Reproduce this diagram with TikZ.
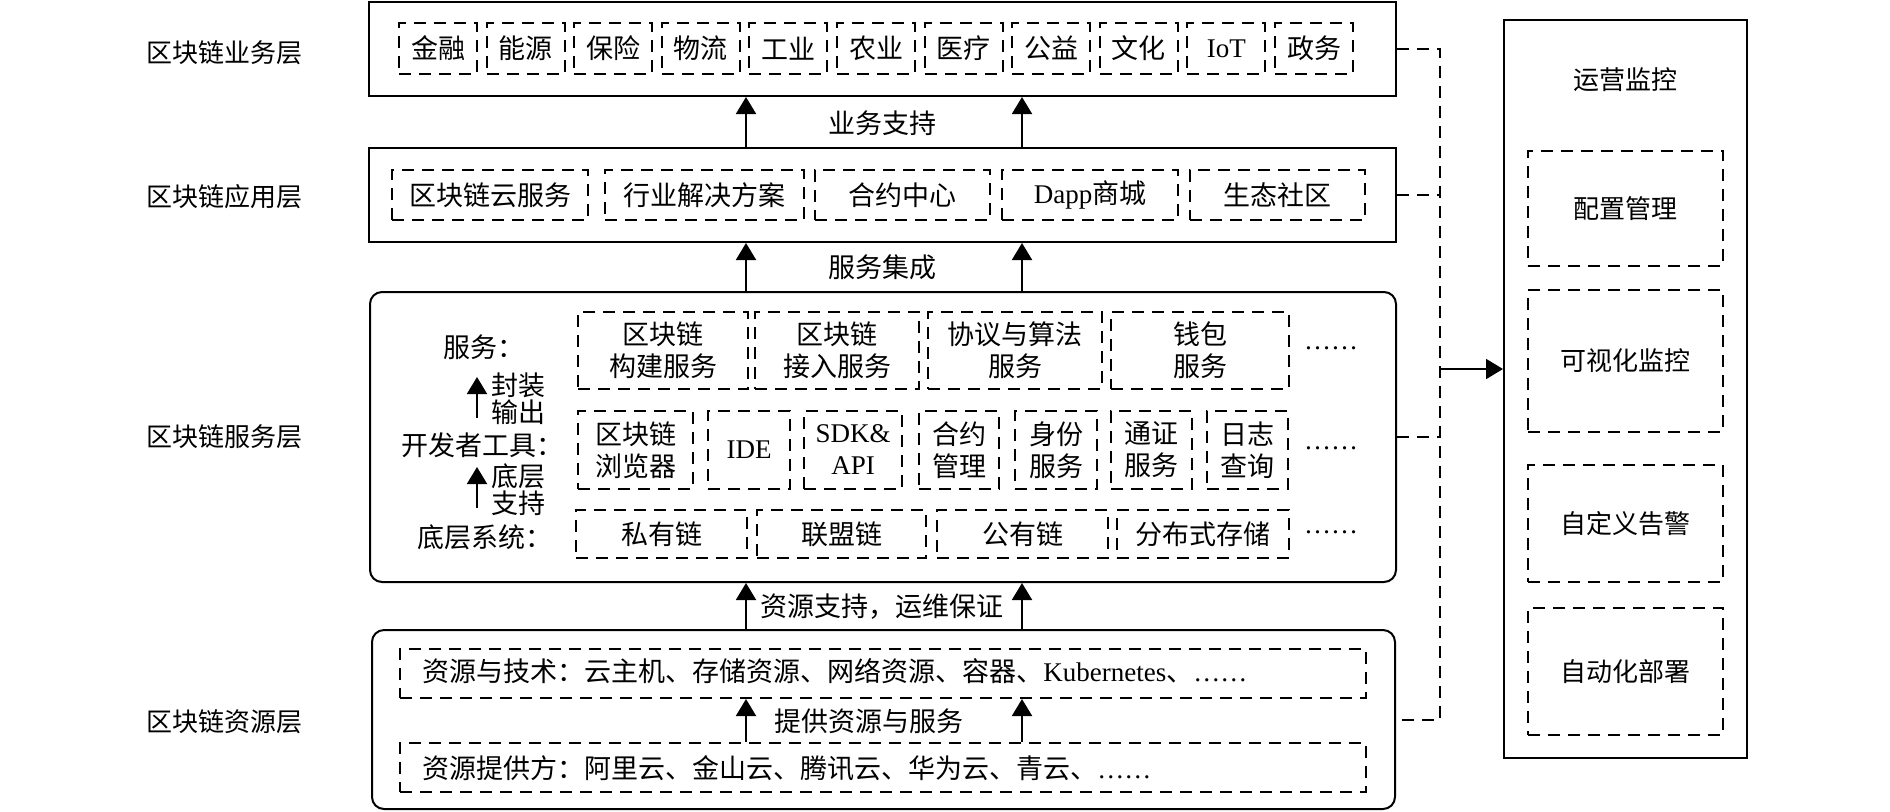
\documentclass[tikz,border=0pt]{standalone}
\usepackage{fontspec}
\setmainfont{Liberation Serif}
\newfontfamily\cjk{Noto Sans CJK SC}
\usetikzlibrary{arrows.meta}
\newcommand\fs{\fontsize{13.5pt}{16pt}\selectfont}
\newcommand\fl{\fontsize{13pt}{16pt}\selectfont}
\tikzset{
  base/.style={inner sep=0pt, font=\cjk\fs, align=center},
  sbox/.style={base, draw, line width=1pt},
  rbox/.style={sbox, rounded corners=6pt},
  dbox/.style={base, draw, line width=1pt, dash pattern=on 6pt off 4pt},
  mbox/.style={dbox, font=\cjk\fl},
  txt/.style={base},
  ltxt/.style={base, font=\cjk\fl},
  sidetxt/.style={base, font=\cjk\fontsize{13.5pt}{13.5pt}\selectfont},
  arr/.style={line width=1pt, -{Triangle[length=8.5pt,width=10pt]}},
  dline/.style={line width=1pt, dash pattern=on 6pt off 4pt},
}
\newcommand\bx[7]{\node[#6, minimum width={(#4-#2)*0.5pt}, minimum height={(#5-#3)*0.5pt}] (#1) at ({(#2+#4)/2},{(#3+#5)/2}) {#7};}
\begin{document}
\begin{tikzpicture}[x=0.5pt,y=-0.5pt]
\useasboundingbox (0,0) rectangle (1890,811);

% layer labels
\node[ltxt] (lb1) at (224,53) {区块链业务层};
\node[ltxt] (lb2) at (224,197) {区块链应用层};
\node[ltxt] (lb3) at (224,437) {区块链服务层};
\node[ltxt] (lb4) at (224,722) {区块链资源层};

% business layer
\bx{biz}{369}{2}{1396}{96}{sbox}{}
\foreach \t [count=\i from 0] in {金融,能源,保险,物流,工业,农业,医疗,公益,文化,{\rmfamily IoT},政务}{
  \pgfmathsetmacro\xc{438+\i*87.6}
  \node[dbox, minimum width=39pt, minimum height=25.5pt] (bi\i) at (\xc,48.5) {\t};
}

% application layer
\bx{app}{369}{148}{1396}{242}{sbox}{}
\bx{a1}{392}{170}{588}{220}{dbox}{区块链云服务}
\bx{a2}{605}{170}{804}{220}{dbox}{行业解决方案}
\bx{a3}{815}{170}{990}{220}{dbox}{合约中心}
\bx{a4}{1002}{170}{1178}{220}{dbox}{{\rmfamily Dapp}商城}
\bx{a5}{1190}{170}{1365}{220}{dbox}{生态社区}

% service layer
\bx{srv}{370}{292}{1396}{582}{rbox}{}
\bx{s1}{578}{312}{748}{389}{dbox}{区块链\\构建服务}
\bx{s2}{755}{312}{919}{389}{dbox}{区块链\\接入服务}
\bx{s3}{928}{312}{1102}{389}{dbox}{协议与算法\\服务}
\bx{s4}{1111}{312}{1289}{389}{dbox}{钱包\\服务}
\node[txt, font=\rmfamily\fs] (s5) at (1331,348) {……};

\bx{d1}{578}{411}{693}{489}{dbox}{区块链\\浏览器}
\bx{d2}{708}{411}{790}{489}{dbox}{{\rmfamily IDE}}
\bx{d3}{804}{411}{902}{489}{dbox}{{\rmfamily SDK\&}\\{\rmfamily API}}
\bx{d4}{919}{411}{999}{489}{dbox}{合约\\管理}
\bx{d5}{1015}{411}{1097}{489}{dbox}{身份\\服务}
\bx{d6}{1111}{411}{1192}{489}{dbox}{通证\\服务}
\bx{d7}{1207}{411}{1288}{489}{dbox}{日志\\查询}
\node[txt, font=\rmfamily\fs] (d8) at (1331,448) {……};

\bx{u1}{576}{510}{747}{558}{dbox}{私有链}
\bx{u2}{757}{510}{926}{558}{dbox}{联盟链}
\bx{u3}{937}{510}{1108}{558}{dbox}{公有链}
\bx{u4}{1117}{510}{1289}{558}{dbox}{分布式存储}
\node[txt, font=\rmfamily\fs] (u5) at (1331,532) {……};

\node[txt] (lsv) at (484,347) {服务：};
\node[txt] (ldv) at (482,445) {开发者工具：};
\node[txt] (lbt) at (485,537) {底层系统：};
\node[sidetxt] (lfz) at (518,399) {封装\\输出};
\node[sidetxt] (ldc) at (518,490) {底层\\支持};
\coordinate (sa1) at (477,418);
\coordinate (sa1e) at (477,377);
\coordinate (sa2) at (477,508);
\coordinate (sa2e) at (477,467);
\draw[arr] (sa1) -- (sa1e);
\draw[arr] (sa2) -- (sa2e);

% resource layer
\bx{res}{372}{630}{1395}{809}{rbox}{}
\bx{r1}{400}{649}{1366}{698}{dbox}{}
\bx{r2}{400}{743}{1366}{792}{dbox}{}
\node[txt, anchor=west] (r1t) at (422,671) {资源与技术：云主机、存储资源、网络资源、容器、{\rmfamily Kubernetes}、{\rmfamily ……}};
\node[txt, anchor=west] (r2t) at (422,768) {资源提供方：阿里云、金山云、腾讯云、华为云、青云、{\rmfamily ……}};

% vertical arrows
\coordinate (ax1) at (746,0);
\coordinate (ax2) at (1022,0);
\foreach \c in {ax1,ax2}{
  \draw[arr] (app.north -| \c) -- (biz.south -| \c);
  \draw[arr] (srv.north -| \c) -- (app.south -| \c);
  \draw[arr] (res.north -| \c) -- (srv.south -| \c);
  \draw[arr] (r2.north -| \c) -- (r1.south -| \c);
}
\node[txt] (l1) at (882,123) {业务支持};
\node[txt] (l2) at (882,267) {服务集成};
\node[txt] (l3) at (882,607) {资源支持，运维保证};
\node[txt] (l4) at (869,721) {提供资源与服务};

% monitoring
\bx{mon}{1504}{20}{1747}{758}{sbox}{}
\node[ltxt] (mt) at (1625,80) {运营监控};
\bx{m1}{1528}{151}{1723}{266}{mbox}{配置管理}
\bx{m2}{1528}{290}{1723}{432}{mbox}{可视化监控}
\bx{m3}{1528}{465}{1723}{582}{mbox}{自定义告警}
\bx{m4}{1528}{608}{1723}{735}{mbox}{自动化部署}

% dashed collector
\coordinate (jx) at (1440,0);
\coordinate (ja) at (1440,369);
\draw[dline] (biz.east) -- (biz.east -| jx) -- (res.east -| jx) -- (res.east);
\draw[dline] (app.east) -- (app.east -| jx);
\draw[dline] (srv.east) -- (srv.east -| jx);
\draw[arr] (ja) -- (ja -| mon.west);
\end{tikzpicture}
\end{document}
